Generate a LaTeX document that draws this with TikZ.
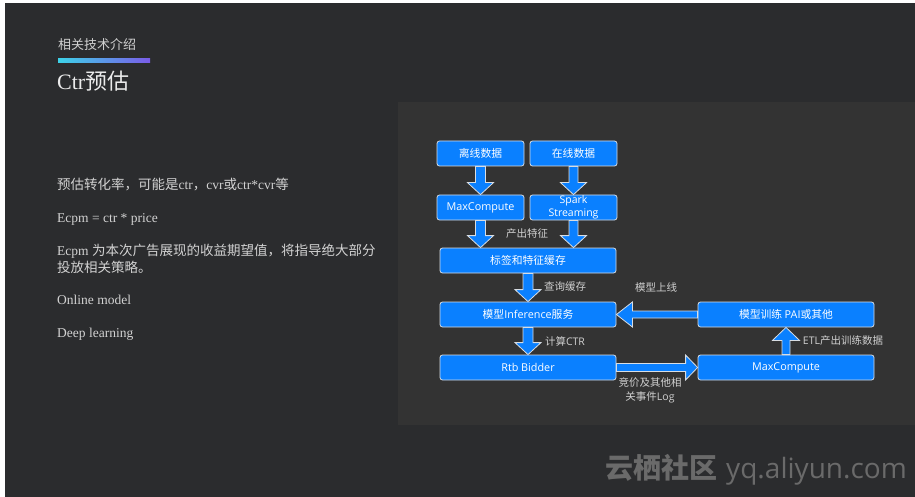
\documentclass[tikz,border=0pt]{standalone}
\usepackage{fontspec}
\setmainfont{Liberation Serif}
\newfontfamily\cjk{Noto Sans CJK SC}
\newfontfamily\boxlat{Open Sans}
\usetikzlibrary{calc}
\definecolor{slidebg}{HTML}{2B2C2E}
\definecolor{panelbg}{HTML}{333333}
\definecolor{boxblue}{HTML}{0A80FF}
\definecolor{boxedge}{HTML}{D8DDE3}
\definecolor{bodytxt}{HTML}{D2D2D2}
\definecolor{labtxt}{HTML}{D0D0D0}
\definecolor{wmark}{HTML}{6A6A6A}
\definecolor{barleft}{HTML}{3DD2E8}
\definecolor{barright}{HTML}{7A5CE8}
\tikzset{
  flowbox/.style={draw=boxedge, line width=0.8pt, fill=boxblue, rounded corners=2.5pt,
    text=white, inner sep=0pt, font=\cjk\fontsize{10.8}{12}\selectfont},
  smallbox/.style={flowbox, minimum width=87pt, minimum height=25pt},
  widebox/.style={flowbox, minimum width=176pt, minimum height=25pt},
  blockarrow/.style={fill=boxblue, draw=boxedge, line width=0.8pt, line join=miter},
  flowlabel/.style={text=labtxt, inner sep=0pt, font=\cjk\fontsize{10.5}{12}\selectfont},
  bodyline/.style={text=bodytxt, inner sep=0pt, anchor=base west, font=\fontsize{13.5}{17}\selectfont}
}
% #1 start, #2 end, #3 shaft half width, #4 head half width, #5 head length
\newcommand\arrdown[5]{\path[blockarrow] let \p1=#1, \p2=#2 in
  (\x1-#3,\y1) -- (\x1-#3,\y2+#5) -- (\x1-#4,\y2+#5) -- (\x1,\y2) -- (\x1+#4,\y2+#5) -- (\x1+#3,\y2+#5) -- (\x1+#3,\y1) -- cycle;}
\newcommand\arrup[5]{\path[blockarrow] let \p1=#1, \p2=#2 in
  (\x1-#3,\y1) -- (\x1-#3,\y2-#5) -- (\x1-#4,\y2-#5) -- (\x1,\y2) -- (\x1+#4,\y2-#5) -- (\x1+#3,\y2-#5) -- (\x1+#3,\y1) -- cycle;}
\newcommand\arrleft[5]{\path[blockarrow] let \p1=#1, \p2=#2 in
  (\x1,\y1-#3) -- (\x2+#5,\y1-#3) -- (\x2+#5,\y1-#4) -- (\x2,\y1) -- (\x2+#5,\y1+#4) -- (\x2+#5,\y1+#3) -- (\x1,\y1+#3) -- cycle;}
\newcommand\arrright[5]{\path[blockarrow] let \p1=#1, \p2=#2 in
  (\x1,\y1-#3) -- (\x2-#5,\y1-#3) -- (\x2-#5,\y1-#4) -- (\x2,\y1) -- (\x2-#5,\y1+#4) -- (\x2-#5,\y1+#3) -- (\x1,\y1+#3) -- cycle;}
\begin{document}
\begin{tikzpicture}[x=1pt,y=-1pt]
\useasboundingbox[fill=white] (0,0) rectangle (915,497);
\fill[slidebg] (5,3) rectangle (915,497);
\fill[panelbg] (398,102) rectangle (915,425);

% header
\node[text=labtxt, inner sep=0pt, anchor=west, font=\cjk\fontsize{13}{15}\selectfont] (section) at (58,45) {相关技术介绍};
\shade[left color=barleft, right color=barright] (58,59) rectangle (150,62.5);
\node[text=white!92!black, inner sep=0pt, anchor=base west, font=\fontsize{22}{26}\selectfont] (title) at (57,90) {Ctr{\cjk 预估}};

% body text
\node[bodyline] (l1) at (57,189.5) {{\cjk 预估转化率，可能是}ctr{\cjk ，}cvr{\cjk 或}ctr*cvr{\cjk 等}};
\node[bodyline] (l2) at (57,222.5) {Ecpm = ctr * price};
\node[bodyline] (l3) at (57,255) {Ecpm {\cjk 为本次广告展现的收益期望值，将指导绝大部分}};
\node[bodyline] (l3b) at (57,272) {\cjk 投放相关策略。};
\node[bodyline] (l4) at (57,304) {Online model};
\node[bodyline] (l5) at (57,337.5) {Deep learning};

% flow boxes
\node[smallbox] (off) at (480.5,153.5) {离线数据};
\node[smallbox] (on) at (573.5,153.5) {在线数据};
\node[smallbox] (mc1) at (480.5,207.5) {\boxlat MaxCompute};
\node[smallbox, align=center, font=\boxlat\fontsize{10.5}{12.5}\selectfont] (spark) at (573.5,207.5) {Spark\\Streaming};
\node[widebox] (cache) at (528,260.5) {标签和特征缓存};
\node[widebox] (inf) at (528,314.5) {模型{\boxlat Inference}服务};
\node[widebox] (train) at (786,314.5) {模型训练 {\boxlat PAI}或其他};
\node[widebox] (rtb) at (528,367.5) {\boxlat Rtb Bidder};
\node[widebox] (mc2) at (786,367.5) {\boxlat MaxCompute};

% block arrows
\arrdown{(off.south)}{(mc1.north)}{5pt}{13pt}{12pt}
\arrdown{(on.south)}{(spark.north)}{4.5pt}{13pt}{12pt}
\arrdown{(mc1.south)}{(mc1.south |- cache.north)}{5pt}{13pt}{12pt}
\arrdown{(spark.south)}{(spark.south |- cache.north)}{4.5pt}{13pt}{12pt}
\arrdown{(cache.south)}{(inf.north)}{5pt}{13pt}{12pt}
\arrdown{(inf.south)}{(rtb.north)}{5pt}{13pt}{12pt}
\arrleft{(train.west)}{(inf.east)}{3.5pt}{12.5pt}{16pt}
\arrright{(rtb.east)}{(mc2.west)}{4pt}{12.5pt}{12pt}
\arrup{(mc2.north)}{(train.south)}{4pt}{13.5pt}{13pt}

% connector labels
\node[flowlabel] (feat) at (527,234) {产出特征};
\node[flowlabel] (query) at (565,287) {查询缓存};
\node[flowlabel] (deploy) at (656,287) {模型上线};
\node[flowlabel] (ctr) at (565,341) {计算{\boxlat CTR}};
\node[flowlabel] (etl) at (843,341) {{\boxlat ETL}产出训练数据};
\node[flowlabel, align=center, font=\cjk\fontsize{10.5}{14}\selectfont] (log) at (650,390) {竞价及其他相\\关事件{\boxlat Log}};

% watermark
\node[text=wmark, inner sep=0pt, anchor=base west, font=\cjk\bfseries\fontsize{28}{30}\selectfont] (wm) at (605,478) {云栖社区\hspace{9pt}{\boxlat\mdseries\fontsize{28}{30}\selectfont yq.aliyun.com}};
\end{tikzpicture}
\end{document}
